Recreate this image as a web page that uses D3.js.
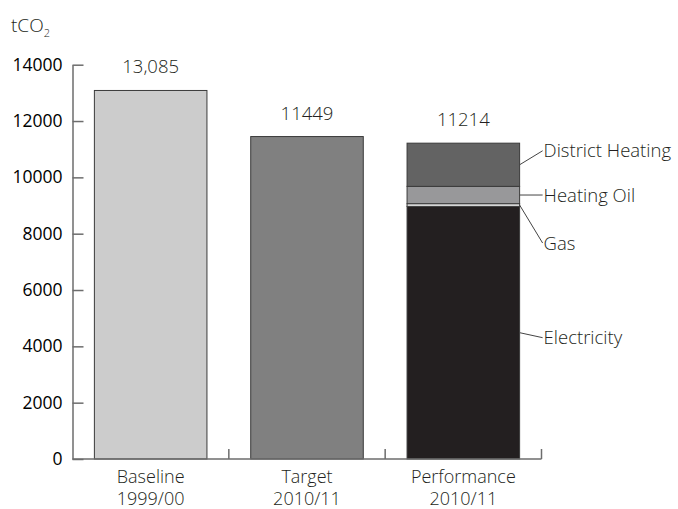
<!DOCTYPE html>
<html>
<head>
<meta charset="utf-8">
<script src="https://cdn.jsdelivr.net/npm/d3@7"></script>
<style>
  html, body { margin: 0; padding: 0; background: #fff; }
  svg { display: block; font-family: "Open Sans", "Noto Sans", sans-serif; }
</style>
</head>
<body>
<svg id="chart" width="678" height="509"></svg>
<script>
// Emissions by reporting period (tCO2)
const categories = ["Baseline\n1999/00", "Target\n2010/11", "Performance\n2010/11"];
const totals = [13085, 11449, 11214];
const totalLabels = ["13,085", "11449", "11214"];

// Breakdown of the performance bar, bottom to top
const sources = ["Electricity", "Gas", "Heating Oil", "District Heating"];
const sourceValues = [8970, 95, 615, 1534];

const yTicks = [0, 2000, 4000, 6000, 8000, 10000, 12000, 14000];

// styling
const barFill = ["#cccccc", "#808080", null];
const sourceFill = ["#231f20", "#eeeeee", "#98989a", "#636363"];
const labelShift = [5, 38, 0, -14]; // vertical nudge of each source label, px

const svg = d3.select("#chart");
const axisColor = "#6d6d6d";
const textColor = "#231f20";

const x = d3.scaleBand()
  .domain(categories)
  .range([72.5, 541.5])
  .paddingInner(0.28)
  .paddingOuter(0.14);

const y = d3.scaleLinear().domain([0, 14000]).range([459, 64.7]);

// unit label
const unit = svg.append("text")
  .attr("x", 11).attr("y", 32)
  .attr("font-size", 19).attr("font-weight", 300).attr("fill", textColor);
unit.append("tspan").text("tCO");
unit.append("tspan").attr("font-size", 11).attr("dy", 5).text("2");

// y axis, ticks pointing into the plot
const yAxis = svg.append("g")
  .attr("transform", `translate(${x.range()[0]},0)`)
  .call(d3.axisLeft(y).tickValues(yTicks).tickFormat(d3.format("d"))
    .tickSizeInner(-11).tickSizeOuter(0).tickPadding(10));
yAxis.selectAll("path, line").attr("stroke", axisColor).attr("stroke-width", 1.5);
yAxis.selectAll("text")
  .attr("font-size", 17.5).attr("fill", "#000")
  .attr("font-family", "'Open Sans', sans-serif");

// plain bars
categories.forEach((c, i) => {
  if (!barFill[i]) return;
  svg.append("rect")
    .attr("x", x(c)).attr("width", x.bandwidth())
    .attr("y", y(totals[i])).attr("height", y(0) - y(totals[i]))
    .attr("fill", barFill[i]).attr("stroke", "#3a3a3a").attr("stroke-width", 1);
});

// stacked performance bar
const perf = categories[2];
const stack = [];
let acc = 0;
sourceValues.forEach((v, i) => { stack.push({ name: sources[i], y0: acc, y1: acc + v, fill: sourceFill[i] }); acc += v; });

svg.append("g").selectAll("rect").data(stack).join("rect")
  .attr("x", x(perf)).attr("width", x.bandwidth())
  .attr("y", d => y(d.y1)).attr("height", d => y(d.y0) - y(d.y1))
  .attr("fill", d => d.fill).attr("stroke", "#3a3a3a").attr("stroke-width", 1);

// source labels with leader lines
const barRight = x(perf) + x.bandwidth();
const lx = barRight + 23;
stack.forEach((d, i) => {
  const yMid = y((d.y0 + d.y1) / 2);
  const yEnd = yMid + labelShift[i];
  svg.append("line")
    .attr("x1", barRight).attr("y1", yMid)
    .attr("x2", lx).attr("y2", yEnd)
    .attr("stroke", "#444").attr("stroke-width", 1);
  svg.append("text")
    .attr("x", lx + 1).attr("y", yEnd).attr("dy", "0.35em")
    .attr("font-size", 18.5).attr("font-weight", 300).attr("fill", textColor)
    .text(d.name);
});

// value labels above bars
categories.forEach((c, i) => {
  svg.append("text")
    .attr("x", x(c) + x.bandwidth() / 2).attr("y", y(totals[i]) - 17)
    .attr("text-anchor", "middle")
    .attr("font-size", 18.5).attr("font-weight", 300).attr("fill", textColor)
    .text(totalLabels[i]);
});

// x axis baseline with separators between categories
svg.append("line")
  .attr("x1", x.range()[0]).attr("x2", x.range()[1])
  .attr("y1", y(0)).attr("y2", y(0))
  .attr("stroke", axisColor).attr("stroke-width", 1.5);
categories.forEach((c, i) => {
  const bx = x.range()[0] + (i + 1) * x.step();
  svg.append("line")
    .attr("x1", bx).attr("x2", bx)
    .attr("y1", y(0)).attr("y2", y(0) - 10)
    .attr("stroke", axisColor).attr("stroke-width", 1.5);
});

// category labels
categories.forEach(c => {
  const t = svg.append("text")
    .attr("x", x(c) + x.bandwidth() / 2).attr("y", 483)
    .attr("text-anchor", "middle")
    .attr("font-size", 18).attr("font-weight", 300).attr("fill", textColor);
  c.split("\n").forEach((line, j) => {
    t.append("tspan").attr("x", x(c) + x.bandwidth() / 2).attr("dy", j ? 22 : 0).text(line);
  });
});
</script>
</body>
</html>
